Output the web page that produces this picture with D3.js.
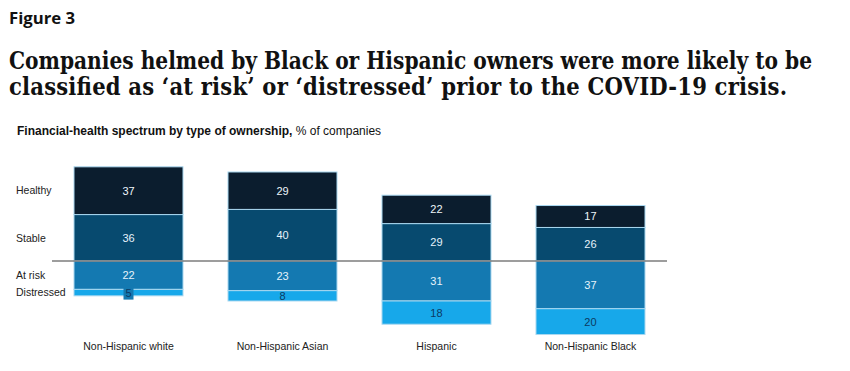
<!DOCTYPE html>
<html><head><meta charset="utf-8">
<script src="https://cdn.jsdelivr.net/npm/d3@7"></script>
<style>body{margin:0;background:#fff;}svg{display:block;}</style>
</head><body>
<svg id="c" width="850" height="371"></svg>
<script>
const categories = ["Non-Hispanic white", "Non-Hispanic Asian", "Hispanic", "Non-Hispanic Black"];
const segments = ["Healthy", "Stable", "At risk", "Distressed"];
const healthy = [37, 29, 22, 17];
const stable = [36, 40, 29, 26];
const atRisk = [22, 23, 31, 37];
const distressed = [5, 8, 18, 20];

const colors = {"Healthy": "#0b1d2e", "Stable": "#074a6f", "At risk": "#1479b1", "Distressed": "#17a8ea"};
const labelColors = {"Healthy": "#eef6fb", "Stable": "#e6f3fb", "At risk": "#e6f3fb", "Distressed": "#0c3a63"};

const svg = d3.select("#c");

// Titles
svg.append("text").attr("x", 9).attr("y", 24)
  .attr("font-family", "'Open Sans', sans-serif").attr("font-weight", 700)
  .attr("font-size", 16).attr("fill", "#111").attr("textLength", 66).attr("lengthAdjust", "spacingAndGlyphs")
  .text("Figure 3");
function fitTitle(txt, yPos, target) {
  const t = svg.append("text").attr("x", 9).attr("y", yPos)
    .attr("font-family", "'DejaVu Serif Condensed', 'DejaVu Serif', serif").attr("font-weight", 700)
    .attr("font-size", 23.5).attr("fill", "#111").text(txt);
  const w = t.node().getComputedTextLength();
  t.attr("textLength", target).attr("lengthAdjust", w > target ? "spacingAndGlyphs" : "spacing");
}
fitTitle("Companies helmed by Black or Hispanic owners were more likely to be", 69, 803);
fitTitle("classified as \u2018at risk\u2019 or \u2018distressed\u2019 prior to the COVID-19 crisis.", 95, 778);

const sub = svg.append("text").attr("x", 17).attr("y", 135)
  .attr("font-family", "'Liberation Sans', Arial, sans-serif").attr("font-size", 12).attr("fill", "#111");
sub.append("tspan").attr("font-weight", 700).text("Financial-health spectrum by type of ownership,");
sub.append("tspan").text(" % of companies");

// Scales
const x = d3.scaleBand().domain(categories).range([74, 645]).paddingInner(0.2922).paddingOuter(0);
const y = d3.scaleLinear().domain([-60, 80]).range([338.4, 157.8]);

// Build stacked segments
const rows = categories.map((c, i) => {
  const segs = [];
  segs.push({cat: c, key: "Stable", v: stable[i], y0: 0, y1: stable[i]});
  segs.push({cat: c, key: "Healthy", v: healthy[i], y0: stable[i], y1: stable[i] + healthy[i]});
  segs.push({cat: c, key: "At risk", v: atRisk[i], y0: -atRisk[i], y1: 0});
  segs.push({cat: c, key: "Distressed", v: distressed[i], y0: -atRisk[i] - distressed[i], y1: -atRisk[i]});
  return segs;
}).flat();

const g = svg.append("g");
g.selectAll("rect.seg").data(rows).join("rect").attr("class", "seg")
  .attr("x", d => x(d.cat)).attr("width", x.bandwidth())
  .attr("y", d => y(d.y1)).attr("height", d => y(d.y0) - y(d.y1))
  .attr("fill", d => colors[d.key]).attr("stroke", "#a9d8f0").attr("stroke-width", 1);

// Baseline
svg.append("line").attr("x1", 52).attr("x2", 667).attr("y1", y(0)).attr("y2", y(0))
  .attr("stroke", "#7d7d7d").attr("stroke-width", 1.5);

// Label backgrounds for tiny segments
const small = rows.filter(d => (y(d.y0) - y(d.y1)) < 10);
g.selectAll("rect.lbg").data(small).join("rect").attr("class", "lbg")
  .attr("x", d => x(d.cat) + x.bandwidth() / 2 - 5).attr("width", 10)
  .attr("y", d => (y(d.y0) + y(d.y1)) / 2 - 7).attr("height", 14)
  .attr("fill", colors["At risk"]);

svg.selectAll("text.val").data(rows).join("text").attr("class", "val")
  .attr("x", d => x(d.cat) + x.bandwidth() / 2)
  .attr("y", d => (y(d.y0) + y(d.y1)) / 2)
  .attr("dy", "0.36em").attr("text-anchor", "middle")
  .attr("font-family", "'Liberation Sans', Arial, sans-serif").attr("font-size", 11)
  .attr("fill", d => labelColors[d.key]).text(d => d.v);

// Row labels aligned to first bar segments
const first = rows.filter(d => d.cat === categories[0]);
svg.selectAll("text.row").data(segments).join("text").attr("class", "row")
  .attr("x", 16)
  .attr("y", s => { const d = first.find(r => r.key === s); return (y(d.y0) + y(d.y1)) / 2; })
  .attr("dy", "0.36em")
  .attr("font-family", "'Liberation Sans', Arial, sans-serif").attr("font-size", 10.5).attr("fill", "#222")
  .text(s => s);

// Category axis
const ax = svg.append("g").attr("transform", "translate(0,346)")
  .call(d3.axisBottom(x).tickSize(0).tickPadding(0));
ax.select(".domain").remove();
ax.selectAll("text").attr("font-family", "'Liberation Sans', Arial, sans-serif").attr("font-size", 10.5)
  .attr("fill", "#222").attr("dy", "0.36em");
</script>
</body></html>
